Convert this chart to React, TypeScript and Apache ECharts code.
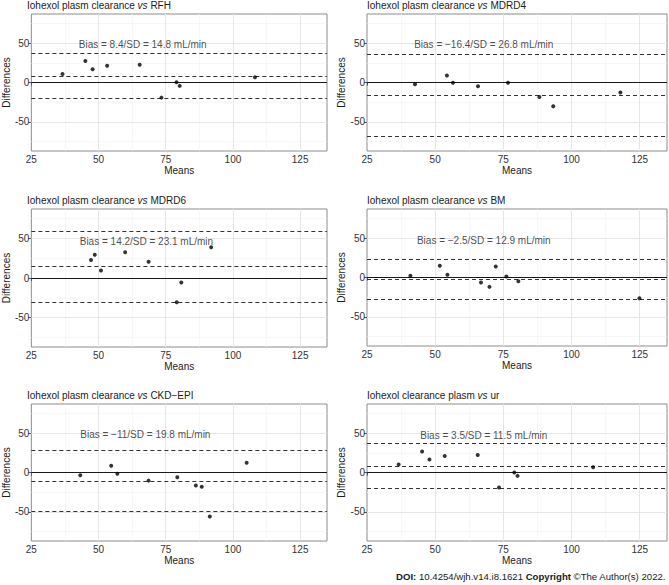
import React, { useEffect, useRef } from "react";
import * as echarts from "echarts";

// ---- data ----
const titlePrefixes = [
  "Iohexol plasm clearance ",
  "Iohexol plasm clearance ",
  "Iohexol plasm clearance ",
  "Iohexol plasm clearance ",
  "Iohexol plasm clearance ",
  "Iohexol clearance plasm ",
];
const titleSuffixes = ["RFH", "MDRD4", "MDRD6", "BM", "CKD\u2212EPI", "ur"];
const biasTexts = [
  "Bias = 8.4/SD = 14.8 mL/min",
  "Bias = \u221216.4/SD = 26.8 mL/min",
  "Bias = 14.2/SD = 23.1 mL/min",
  "Bias = \u22122.5/SD = 12.9 mL/min",
  "Bias = \u221211/SD = 19.8 mL/min",
  "Bias = 3.5/SD = 11.5 mL/min",
];

const meansRFH = [36.6, 45.1, 47.8, 53.2, 65.3, 73.4, 79.0, 80.2, 108.2];
const diffsRFH = [10.7, 27.4, 16.7, 21.4, 22.6, -19.2, 0.4, -4.3, 6.8];
const meansMDRD4 = [42.6, 54.3, 56.5, 65.7, 76.7, 88.2, 93.3, 117.9];
const diffsMDRD4 = [-2.1, 9.0, -0.4, -4.7, -0.4, -18.4, -30.3, -12.8];
const meansMDRD6 = [47.2, 48.6, 50.9, 59.9, 68.6, 80.8, 79.1, 91.9];
const diffsMDRD6 = [22.7, 29.4, 9.5, 32.4, 20.6, -5.7, -30.7, 38.8];
const meansBM = [40.9, 51.7, 54.5, 66.8, 69.9, 72.2, 76.1, 80.5, 124.9];
const diffsBM = [2.1, 14.9, 3.4, -6.4, -11.9, 14.0, 1.3, -4.7, -26.4];
const meansCKD = [43.2, 54.7, 57.0, 68.6, 79.3, 86.2, 88.4, 91.4, 105.1];
const diffsCKD = [-3.4, 8.6, -1.7, -10.3, -6.0, -16.4, -18.1, -56.0, 12.5];
const meansUR = [36.6, 45.2, 47.9, 53.5, 65.6, 73.4, 79.0, 80.2, 107.9];
const diffsUR = [10.2, 26.8, 16.6, 20.9, 22.1, -19.1, 0.0, -4.3, 6.8];

// upper limit, bias, lower limit (dashed lines as drawn)
const limitsRFH = [37.4, 8.4, -20.6];
const limitsMDRD4 = [36.1, -16.4, -68.9];
const limitsMDRD6 = [59.5, 14.2, -31.1];
const limitsBM = [22.8, -2.5, -27.8];
const limitsCKD = [27.8, -11, -49.8];
const limitsUR = [37.4, 8.4, -20.6];

const xTicks = [25, 50, 75, 100, 125];
const yTicks = [-50, 0, 50];
const xMajorGrid = [50, 75, 100, 125];
const xMinorGrid = [37.5, 62.5, 87.5, 112.5];
const yMajorGrid = [-50, 50];
const yMinorGrid = [-75, -25, 25, 75];

const panelMeans = [meansRFH, meansMDRD4, meansMDRD6, meansBM, meansCKD, meansUR];
const panelDiffs = [diffsRFH, diffsMDRD4, diffsMDRD6, diffsBM, diffsCKD, diffsUR];
const panelLimits = [limitsRFH, limitsMDRD4, limitsMDRD6, limitsBM, limitsCKD, limitsUR];
const labelX = [66.6, 68, 68, 68, 67.6, 68];
const labelY = [47, 47, 46, 46, 48, 46];

// ---- layout ----
const FONT = "Liberation Sans";
const grids = [
  { left: 27, top: 14, width: 300, height: 137 },
  { left: 367, top: 14, width: 300, height: 137 },
  { left: 27, top: 209, width: 300, height: 138 },
  { left: 367, top: 209, width: 300, height: 137 },
  { left: 27, top: 404, width: 300, height: 137 },
  { left: 367, top: 404, width: 300, height: 137 },
];

function buildOption() {
  const xAxis: any[] = [];
  const yAxis: any[] = [];
  const series: any[] = [];
  const title: any[] = [];

  grids.forEach((g, i) => {
    title.push({
      left: g.left,
      top: g.top - 14,
      padding: 0,
      text: `{a|${titlePrefixes[i]}}{b|vs}{a| ${titleSuffixes[i]}}`,
      textStyle: {
        fontWeight: "normal",
        rich: {
          a: { fontFamily: FONT, fontSize: 10, color: "#1a1a1a", fontWeight: "normal" },
          b: { fontFamily: FONT, fontSize: 10, color: "#1a1a1a", fontWeight: "normal", fontStyle: "italic" },
        },
      },
    });
    xAxis.push({
      type: "value",
      gridIndex: i,
      min: 25,
      max: 135,
      name: "Means",
      nameLocation: "middle",
      nameGap: 14,
      nameTextStyle: { fontFamily: FONT, fontSize: 10, color: "#1a1a1a" },
      axisLine: { show: false },
      splitLine: { show: false },
      axisTick: { show: true, length: 3, customValues: xTicks, lineStyle: { color: "#555" } },
      axisLabel: {
        customValues: xTicks,
        margin: 3,
        fontFamily: FONT,
        fontSize: 10,
        color: "#333333",
      },
    });
    yAxis.push({
      type: "value",
      gridIndex: i,
      min: -87,
      max: 87,
      name: "Differences",
      nameLocation: "middle",
      nameGap: 18,
      nameRotate: 90,
      nameTextStyle: { fontFamily: FONT, fontSize: 10, color: "#1a1a1a" },
      axisLine: { show: false },
      splitLine: { show: false },
      axisTick: { show: true, length: 3, customValues: yTicks, lineStyle: { color: "#555" } },
      axisLabel: {
        show: true,
        customValues: yTicks,
        margin: 2,
        fontFamily: FONT,
        fontSize: 10,
        color: "#333333",
        formatter: (v: any) => {
          const n = Number(v);
          return n < 0 ? "-" + Math.abs(n) : String(n);
        },
      },
    });

    // grid lines
    const gridData: any[] = [];
    xMinorGrid.forEach((v) => gridData.push({ xAxis: v, lineStyle: { color: "#f2f2f2", width: 0.6, type: "solid" } }));
    yMinorGrid.forEach((v) => gridData.push({ yAxis: v, lineStyle: { color: "#f2f2f2", width: 0.6, type: "solid" } }));
    xMajorGrid.forEach((v) => gridData.push({ xAxis: v, lineStyle: { color: "#e6e6e6", width: 1, type: "solid" } }));
    yMajorGrid.forEach((v) => gridData.push({ yAxis: v, lineStyle: { color: "#e6e6e6", width: 1, type: "solid" } }));
    series.push({
      type: "line",
      xAxisIndex: i,
      yAxisIndex: i,
      data: [],
      silent: true,
      z: 1,
      markLine: {
        silent: true,
        z: 1,
        symbol: ["none", "none"],
        label: { show: false },
        data: gridData,
      },
    });

    // zero line & limits
    const lim = panelLimits[i];
    series.push({
      type: "line",
      xAxisIndex: i,
      yAxisIndex: i,
      data: [],
      silent: true,
      z: 2,
      markLine: {
        silent: true,
        z: 2,
        symbol: ["none", "none"],
        label: { show: false },
        data: [
          { yAxis: 0, lineStyle: { color: "#1a1a1a", width: 1, type: "solid" } },
          ...lim.map((v) => ({ yAxis: v, lineStyle: { color: "#333", width: 1, type: [4, 3] } })),
        ],
      },
    });

    // points
    series.push({
      type: "scatter",
      xAxisIndex: i,
      yAxisIndex: i,
      symbolSize: 4,
      itemStyle: { color: "#000" },
      z: 5,
      data: panelMeans[i].map((m, k) => [m, panelDiffs[i][k]]),
    });

    // bias annotation
    series.push({
      type: "scatter",
      xAxisIndex: i,
      yAxisIndex: i,
      symbolSize: 1,
      itemStyle: { color: "rgba(0,0,0,0)" },
      silent: true,
      z: 6,
      label: {
        show: true,
        position: [0, 0],
        align: "center",
        verticalAlign: "middle",
        formatter: biasTexts[i],
        fontFamily: FONT,
        fontSize: 10,
        color: "#1a1a1a",
        textBorderWidth: 0,
      },
      data: [[labelX[i], labelY[i]]],
    });
  });

  return {
    animation: false,
    backgroundColor: "#fff",
    title,
    grid: grids.map((g) => ({
      ...g,
      show: true,
      borderColor: "#8c8c8c",
      borderWidth: 1,
      backgroundColor: "#fff",
      containLabel: false,
    })),
    xAxis,
    yAxis,
    series,
    graphic: [
      {
        type: "text",
        right: 3,
        top: 571,
        style: {
          text: "{b|DOI:} 10.4254/wjh.v14.i8.1621 {b|Copyright} \u00A9The Author(s) 2022.",
          fontFamily: FONT,
          fontSize: 9.6,
          fill: "#1a1a1a",
          rich: {
            b: { fontFamily: FONT, fontSize: 9.6, fontWeight: "bold", fill: "#1a1a1a" },
          },
        },
      },
    ],
  };
}

export default function App() {
  const ref = useRef<HTMLDivElement>(null);
  useEffect(() => {
    if (!ref.current) return;
    const chart = echarts.init(ref.current, undefined, { renderer: "svg" });
    chart.setOption(buildOption() as any);
    return () => chart.dispose();
  }, []);
  return (
    <div
      ref={ref}
      style={{ position: "fixed", left: 0, top: 0, width: 669, height: 585, background: "#fff" }}
    />
  );
}
